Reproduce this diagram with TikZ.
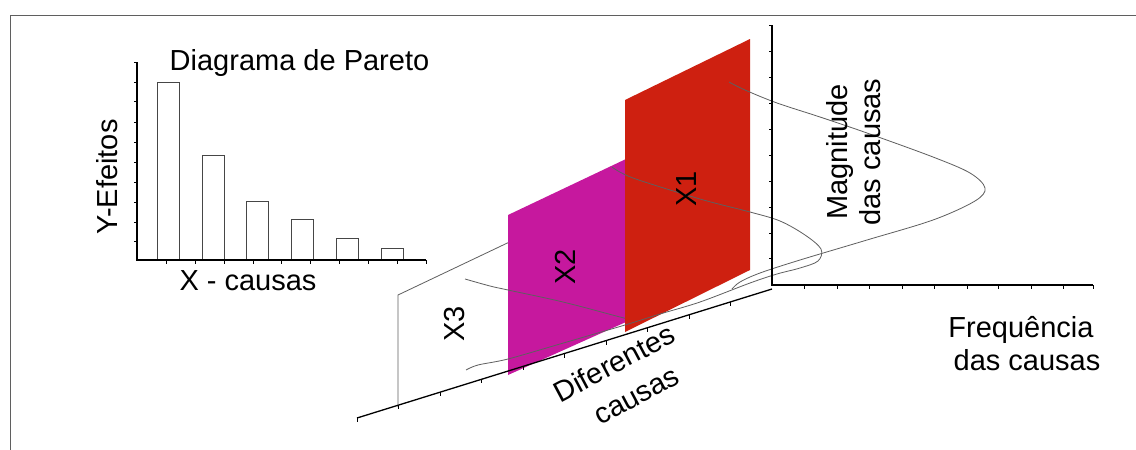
\documentclass[tikz,border=0pt]{standalone}
\usepackage{fontspec}
\setmainfont{Liberation Sans}
\usetikzlibrary{calc}
\definecolor{planeRed}{RGB}{206,32,16}
\definecolor{planeMag}{RGB}{198,24,158}
\definecolor{curveGray}{RGB}{95,95,95}
\definecolor{frameGray}{RGB}{95,95,95}
\definecolor{barGray}{RGB}{70,70,70}
\begin{document}
\begin{tikzpicture}[x=1pt,y=-1pt,
  lbl/.style={font=\fontsize{29}{33}\selectfont, inner sep=0pt},
  axisline/.style={draw=black, line width=1.3pt},
  tickline/.style={draw=black, line width=0.9pt},
  barbox/.style={draw=barGray, fill=white, line width=0.8pt},
  curveline/.style={draw=curveGray, line width=0.8pt},
  outline/.style={draw=curveGray, line width=0.8pt},
  framebox/.style={draw=frameGray, line width=1pt}]
\useasboundingbox[fill=white] (0,0) rectangle (1136,450);

% frame
\coordinate (fBL) at (10,450);
\coordinate (fTL) at (10,15.5);
\coordinate (fTR) at (1136,15.5);
\draw[framebox] (fBL) -- (fTL) -- (fTR);

% ---------------- Pareto chart ----------------
\coordinate (pO) at (137,260);
\coordinate (pY) at (137,62);
\coordinate (pX) at (426,260);
\foreach \x/\t in {157/82, 202/155, 246/201, 291/219, 336/238, 381/248}
  \draw[barbox] (\x,260) rectangle (\x+22,\t);
\draw[axisline] (pY) -- (pO) -- (pX);
\foreach \y in {62,82,101,122,142,162,182,202,222,241}
  \draw[tickline] (137,\y) -- (133.5,\y);
\foreach \x in {166.7,195.5,224.3,253.1,281.9,310.7,339.5,368.3,397.1,426}
  \draw[tickline] (\x,260) -- (\x,263.5);
\node[lbl, anchor=base] (ptitle) at (299.5,70) {Diagrama de Pareto};
\node[lbl, anchor=base] (pxlab) at (248,290) {X - causas};
\node[lbl, anchor=base, rotate=90] (pylab) at (117,177) {Y-Efeitos};

% ---------------- 3D part ----------------
\coordinate (dcA) at (357,418);
\coordinate (dcB) at (772,289);
\coordinate (O) at (772,285);
\coordinate (Ytop) at (772,25);
\coordinate (Xend) at (1093,285);

% X3 plane outline
\coordinate (x3a) at (398,407);
\coordinate (x3b) at (398,295);
\coordinate (x3c) at (520,237);
\draw[outline] (x3a) -- (x3b) -- (x3c);

% X2 plane
\coordinate (x2a) at (508,375);
\coordinate (x2b) at (508,215);
\coordinate (x2c) at (626,159);
\coordinate (x2d) at (626,322);
\fill[planeMag] (x2a) -- (x2b) -- (x2c) -- (x2d) -- cycle;

% curve belonging to X3 (passes behind X1)
\draw[curveline] plot[smooth, tension=0.6] coordinates
  {(465,279) (490,286) (508,290) (563,302) (620,317) (640,322)};

% X1 plane
\coordinate (x1a) at (625,332);
\coordinate (x1b) at (625,100);
\coordinate (x1c) at (750,39);
\coordinate (x1d) at (750,270);
\fill[planeRed] (x1a) -- (x1b) -- (x1c) -- (x1d) -- cycle;

% curve belonging to X2
\draw[curveline] plot[smooth, tension=0.55] coordinates
  {(612,167) (633,178) (700,199) (750,212) (780,221) (805,235) (821,249)
   (818,261) (800,268) (777,274) (750,283) (700,302) (660,314) (625,325)
   (560,344) (508,359) (478,365) (466,370)};

% curve belonging to X1
\draw[curveline] plot[smooth, tension=0.55] coordinates
  {(729,82) (745,90) (777,103) (820,117) (867,133) (933,157) (970,173)
   (985,188) (975,201) (933,220) (867,240) (800,260) (760,273) (740,282) (732,289)};

% "Diferentes causas" axis
\draw[axisline] (dcA) -- (dcB);
\foreach \k in {0,...,9}
  \draw[tickline] ($(dcA)!\k/10!(dcB)$) -- ++(0,4);

% right axes
\draw[axisline] (Ytop) -- (O) -- (Xend);
\foreach \y in {25,51,77,103,129,155,181,207,233,258}
  \draw[tickline] (772,\y) -- (768.5,\y);
\foreach \x in {804,837,869,902,934,967,998,1031,1063,1093}
  \draw[tickline] (\x,285) -- (\x,288.5);

% labels
\node[lbl, rotate=90] (lx1) at (687,189) {X1};
\node[lbl, rotate=90] (lx2) at (565,267) {X2};
\node[lbl, rotate=90] (lx3) at (455,324) {X3};
\node[lbl, anchor=base, rotate=90] (mag1) at (847,152) {Magnitude};
\node[lbl, anchor=base, rotate=90] (mag2) at (880,152) {das causas};
\node[lbl, anchor=base] (freq1) at (1021,337) {Frequência};
\node[lbl, anchor=base] (freq2) at (1027,370) {das causas};
\node[lbl, anchor=base, rotate=28] (dif1) at (619,372) {Diferentes};
\node[lbl, anchor=base, rotate=28] (dif2) at (641,404) {causas};
\end{tikzpicture}
\end{document}
